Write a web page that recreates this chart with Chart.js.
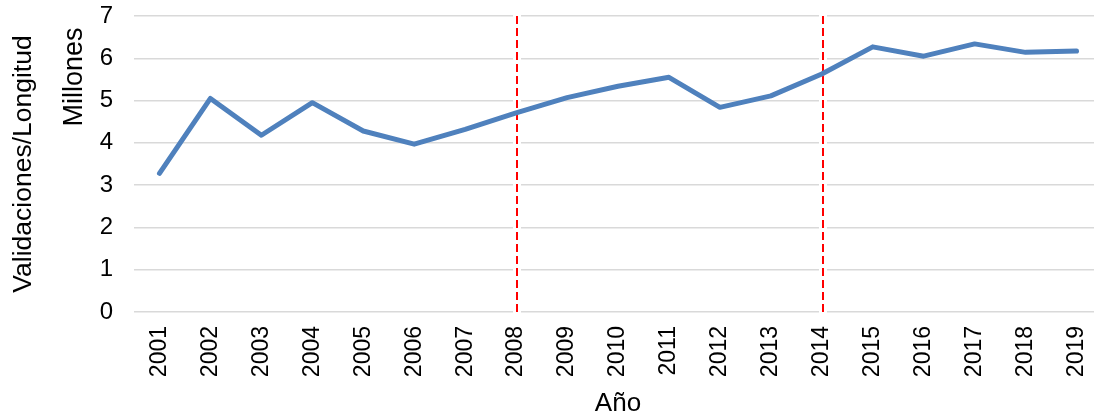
<!DOCTYPE html>
<html>
<head>
<meta charset="utf-8">
<script src="https://cdn.jsdelivr.net/npm/chart.js@4.4.1/dist/chart.umd.min.js"></script>
<style>
  html, body { margin: 0; padding: 0; background: #fff; overflow: hidden; }
  #wrap { width: 1102px; height: 419px; }
</style>
</head>
<body>
<div id="wrap"><canvas id="c" width="1102" height="419"></canvas></div>
<script>
// Years on the category axis
const years = ['2001','2002','2003','2004','2005','2006','2007','2008','2009','2010',
               '2011','2012','2013','2014','2015','2016','2017','2018','2019'];
// Validations per length, in millions
const validaciones = [3.28, 5.05, 4.18, 4.95, 4.28, 3.97, 4.32, 4.71, 5.07, 5.34,
                      5.55, 4.84, 5.11, 5.63, 6.27, 6.05, 6.34, 6.14, 6.17];
// Years marked with a dashed red reference line
const markerYears = ['2008', '2014'];
// Value-axis ticks
const yTicks = [0, 1, 2, 3, 4, 5, 6, 7];

const FONT = 'Liberation Sans, Arial, sans-serif';

// Dashed vertical markers drawn on the category scale
const markerLines = {
  id: 'markerLines',
  beforeDatasetsDraw(chart) {
    const { ctx, chartArea, scales } = chart;
    markerYears.forEach(y => {
      const x = Math.round(scales.x.getPixelForValue(y)) + 1;
      ctx.save();
      ctx.strokeStyle = '#ffffff';
      ctx.lineWidth = 8;
      ctx.beginPath();
      ctx.moveTo(x, chartArea.top - 1);
      ctx.lineTo(x, chartArea.bottom + 1);
      ctx.stroke();
      ctx.strokeStyle = '#ff0000';
      ctx.lineWidth = 2;
      ctx.setLineDash([8, 4]);
      ctx.beginPath();
      ctx.moveTo(x, chartArea.top);
      ctx.lineTo(x, chartArea.bottom);
      ctx.stroke();
      ctx.restore();
    });
  }
};

// Unit label next to the value axis
const unitLabel = {
  id: 'unitLabel',
  afterDraw(chart) {
    const { ctx } = chart;
    ctx.save();
    ctx.translate(75, 77);
    ctx.rotate(-Math.PI / 2);
    ctx.font = '27px ' + FONT;
    ctx.fillStyle = '#000';
    ctx.textAlign = 'center';
    ctx.textBaseline = 'middle';
    ctx.fillText('Millones', 0, 0);
    ctx.restore();
  }
};

new Chart(document.getElementById('c'), {
  type: 'line',
  data: {
    labels: years,
    datasets: [{
      data: validaciones,
      borderColor: '#4f81bd',
      borderWidth: 5,
      borderJoinStyle: 'round',
      borderCapStyle: 'round',
      pointRadius: 0,
      pointHoverRadius: 0,
      tension: 0,
      fill: false
    }]
  },
  options: {
    responsive: false,
    animation: false,
    events: [],
    layout: { padding: { top: 16, right: 0, left: 0, bottom: 0 } },
    plugins: { legend: { display: false }, tooltip: { enabled: false } },
    scales: {
      x: {
        type: 'category',
        offset: true,
        grid: { display: false, drawTicks: false },
        border: { display: false },
        ticks: {
          autoSkip: false,
          maxRotation: 90,
          minRotation: 90,
          padding: 14,
          color: '#000',
          font: { family: FONT, size: 23 }
        },
        title: {
          display: true,
          text: 'Año',
          color: '#000',
          font: { family: FONT, size: 26 },
          padding: { top: 0, bottom: 0 }
        },
        afterFit(scale) {
          scale.height = 107;
          scale.paddingLeft = 0;
          scale.paddingRight = 0;
        }
      },
      y: {
        min: 0,
        max: 7,
        afterBuildTicks(scale) { scale.ticks = yTicks.map(v => ({ value: v })); },
        grid: { color: '#d9d9d9', lineWidth: 1.5, drawTicks: false },
        border: { display: false },
        ticks: {
          padding: 21,
          color: '#000',
          font: { family: FONT, size: 24 }
        },
        title: {
          display: true,
          text: 'Validaciones/Longitud',
          color: '#000',
          font: { family: FONT, size: 26.5 },
          padding: { top: 8, bottom: 0 }
        },
        afterFit(scale) {
          scale.width = 134;
          scale.paddingTop = 0;
          scale.paddingBottom = 0;
        }
      }
    }
  },
  plugins: [markerLines, unitLabel]
});
</script>
</body>
</html>
